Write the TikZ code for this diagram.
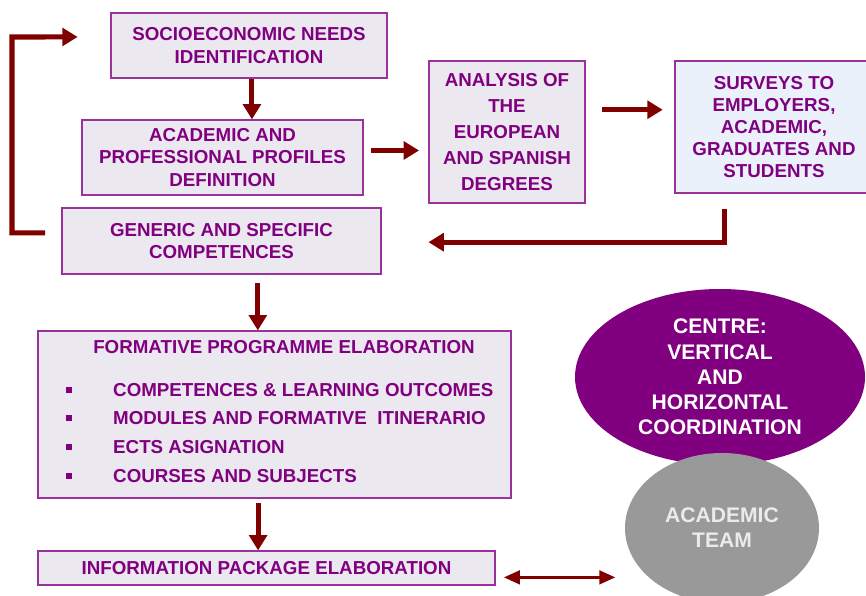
\documentclass[tikz,border=0pt]{standalone}
\usepackage{fontspec}
\setmainfont{Liberation Sans}
\usetikzlibrary{arrows.meta}
\usetikzlibrary{shapes.geometric}

\definecolor{plum}{RGB}{128,0,128}
\definecolor{frame}{RGB}{153,51,153}
\definecolor{shade}{RGB}{235,232,239}
\definecolor{icy}{RGB}{234,241,251}
\definecolor{darkred}{RGB}{128,0,0}
\definecolor{stone}{RGB}{153,153,153}

\tikzset{
  boxtext/.style={text=plum, inner sep=0pt, align=center, font=\fontsize{16}{19.5}\selectfont\bfseries},
  box/.style={boxtext, draw=frame, line width=1pt, fill=shade},
  blob/.style={ellipse, inner sep=0pt, align=center, font=\fontsize{18}{21.5}\selectfont\bfseries},
  flow/.style={draw=darkred, line width=4.3pt, -{Triangle[length=4.6mm,width=5.3mm]}},
  flowboth/.style={draw=darkred, line width=2.8pt, {Triangle[length=4.8mm,width=4mm]}-{Triangle[length=4.8mm,width=4mm]}}
}

\begin{document}
\begin{tikzpicture}[x=0.3mm,y=-0.3mm]
    \useasboundingbox (0,0) rectangle (866,596);

    \node[box, minimum width=82.8mm, minimum height=19.5mm] (socio) at (249,45.5) {SOCIOECONOMIC NEEDS\\IDENTIFICATION};
    \node[box, minimum width=84.3mm, minimum height=22.5mm] (acad) at (222.5,157.5) {ACADEMIC AND\\PROFESSIONAL PROFILES\\DEFINITION};
    \node[box, minimum width=95.7mm, minimum height=19.8mm] (gen) at (221.5,241) {GENERIC AND SPECIFIC\\COMPETENCES};
    \node[box, minimum width=46.8mm, minimum height=42.6mm, font=\fontsize{16}{22}\selectfont\bfseries] (ana) at (507,132) {ANALYSIS OF\\THE\\EUROPEAN\\AND SPANISH\\DEGREES};
    \node[box, fill=icy, minimum width=59.4mm, minimum height=39.6mm, font=\fontsize{16}{18.7}\selectfont\bfseries] (surv) at (774,127) {SURVEYS TO\\EMPLOYERS,\\ACADEMIC,\\GRADUATES AND\\STUDENTS};

    \node[box, minimum width=141.9mm, minimum height=50.1mm] (form) at (274.5,414.5) {};
    \node[boxtext] (formtitle) at (284,347) {FORMATIVE PROGRAMME ELABORATION};
    \foreach \y/\t [count=\i] in {390/COMPETENCES \& LEARNING OUTCOMES, 418/MODULES AND FORMATIVE\ \ ITINERARIO, 447/ECTS ASIGNATION, 476/COURSES AND SUBJECTS}{
        \fill[plum] (65.5,\y-3) rectangle (71.5,\y+3);
        \node[boxtext, anchor=west] (item\i) at (113,\y) {\t};
    }
    \node[box, minimum width=137.1mm, minimum height=10.2mm] (info) at (266.5,568) {INFORMATION PACKAGE ELABORATION};

    \node[blob, fill=plum, text=white, minimum width=87mm, minimum height=52.8mm] (centre) at (720,377) {CENTRE:\\VERTICAL\\AND\\HORIZONTAL\\COORDINATION};
    \node[blob, fill=stone, text=white!92!black, minimum width=58.2mm, minimum height=45mm] (team) at (722,528) {ACADEMIC\\TEAM};

    \coordinate (back) at (12,37);
    \draw[flow, shorten <=14pt, shorten >=28pt] ([yshift=7pt]gen.west) -| (back) -- ([yshift=7.3pt]socio.west);
    \draw[flow] ([xshift=2.5pt]socio.south) -- ([xshift=2.5pt]socio.south |- acad.north);
    \draw[flow, shorten <=6pt, shorten >=8pt] ([yshift=6pt]acad.east) -- ([yshift=6pt]acad.east -| ana.west);
    \draw[flow, shorten <=14pt, shorten >=10pt] ([yshift=19pt]ana.east) -- ([yshift=19pt]ana.east -| surv.west);
    \draw[flow, shorten <=13pt, shorten >=40pt] ([xshift=-42pt]surv.south) |- ([yshift=-1pt]gen.east);
    \draw[flow, shorten <=7pt] ([xshift=31pt]gen.south) -- ([xshift=31pt]gen.south |- form.north);
    \draw[flow, shorten <=4pt] ([xshift=-14pt]form.south) -- ([xshift=-14pt]form.south |- info.north);
    \draw[flowboth, shorten <=7pt, shorten >=8pt] ([yshift=-8pt]info.east) -- ([yshift=-8pt]info.east -| team.west);
\end{tikzpicture}
\end{document}
